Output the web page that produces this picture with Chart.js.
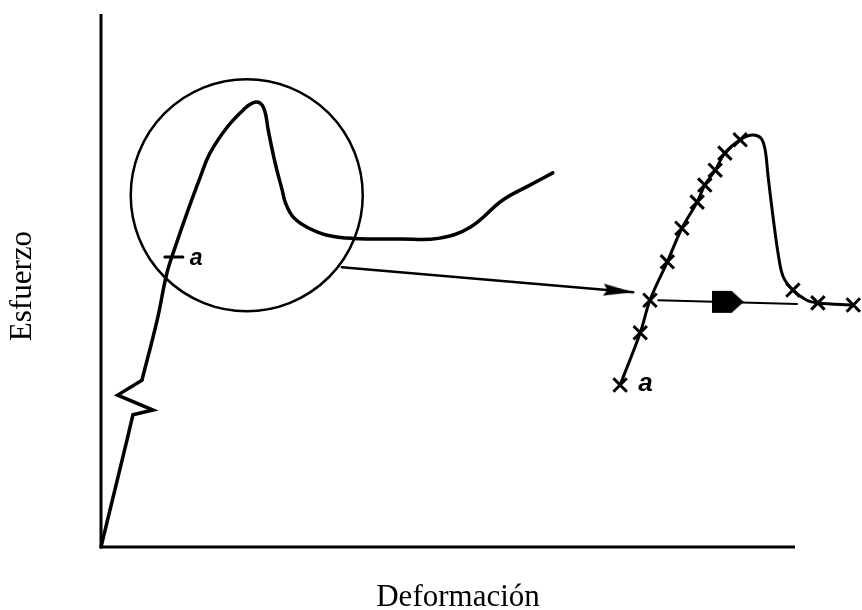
<!DOCTYPE html>
<html>
<head>
<meta charset="utf-8">
<title>Esfuerzo - Deformación</title>
<script src="https://cdn.jsdelivr.net/npm/chart.js@4/dist/chart.umd.min.js"></script>
<style>
  html, body { margin: 0; padding: 0; background: #fff; }
  canvas { display: block; }
</style>
</head>
<body>
<canvas id="stressChart" width="862" height="610"></canvas>
<script>
// units: deformación 0-100 along the axis, esfuerzo 0-100 up the axis
const ejes = [{x: 0, y: 100}, {x: 0, y: 0}, {x: 100, y: 0}];

// straight elastic start with the break mark
const arranque = [
    {x: 0, y: 0}, {x: 3.75, y: 20.1}, {x: 4.6, y: 24.8}, {x: 7.5, y: 25.7},
    {x: 2.4, y: 28.5}, {x: 5.9, y: 31.3}
];

// main curve: rise, peak, drop, plateau, hardening
const curva = [
    {x: 5.9, y: 31.3}, {x: 8.1, y: 42.6}, {x: 9.5, y: 51.4}, {x: 10.7, y: 56.3},
    {x: 12.4, y: 62.7}, {x: 14.3, y: 69.4}, {x: 15.7, y: 73.9}, {x: 18.2, y: 78.8},
    {x: 20.5, y: 82.0}, {x: 21.8, y: 83.3}, {x: 22.9, y: 83.3}, {x: 23.6, y: 81.8},
    {x: 24.1, y: 78.2}, {x: 25.1, y: 72.0}, {x: 26.1, y: 67.0}, {x: 26.6, y: 64.5},
    {x: 27.7, y: 61.9}, {x: 29.7, y: 60.0}, {x: 32.6, y: 58.5}, {x: 36.3, y: 57.9},
    {x: 43.1, y: 57.8}, {x: 48.6, y: 57.9}, {x: 53.2, y: 60.0}, {x: 57.9, y: 65.1},
    {x: 61.8, y: 67.9}, {x: 65.1, y: 70.2}
];

const marcaA = [{x: 9.2, y: 54.4}, {x: 11.8, y: 54.4}];
const lupa = [{x: 21.0, y: 66.0}];
const flecha = [{x: 34.7, y: 52.5}, {x: 76.7, y: 47.8}];

// enlarged detail with the x marks
const detalle = [
    {x: 74.8, y: 30.4}, {x: 77.7, y: 40.2}, {x: 79.1, y: 46.3}, {x: 81.6, y: 53.5},
    {x: 83.7, y: 59.8}, {x: 85.9, y: 64.7}, {x: 87.0, y: 67.9}, {x: 88.5, y: 70.7},
    {x: 89.9, y: 73.9}, {x: 92.1, y: 76.4}, {x: 93.8, y: 77.3}, {x: 95.1, y: 76.7},
    {x: 95.7, y: 74.5}, {x: 96.1, y: 69.8}, {x: 96.8, y: 62.3}, {x: 97.6, y: 54.8},
    {x: 98.3, y: 50.7}, {x: 99.7, y: 48.2}, {x: 101.7, y: 46.3}, {x: 103.3, y: 45.8},
    {x: 108.4, y: 45.4}
];
const marcados = [0, 1, 2, 3, 4, 5, 6, 7, 8, 9, 17, 19, 20];

const trayecto = [{x: 80.3, y: 46.3}, {x: 100.3, y: 45.6}];
const avance = [{x: 90.3, y: 46.0}];

const etiquetasA = [{x: 12.8, y: 53.0}, {x: 77.4, y: 29.3}];

function makeArrowHead(len, half) {
    const c = document.createElement('canvas');
    c.width = len * 2;
    c.height = half * 2 + 2;
    const g = c.getContext('2d');
    g.fillStyle = '#000';
    g.beginPath();
    g.moveTo(len, half + 1);
    g.lineTo(0, 1);
    g.lineTo(4, half + 1);
    g.lineTo(0, half * 2 + 1);
    g.closePath();
    g.fill();
    return c;
}

function makeBullet() {
    const c = document.createElement('canvas');
    c.width = 32;
    c.height = 24;
    const g = c.getContext('2d');
    g.fillStyle = '#000';
    g.beginPath();
    g.moveTo(0, 1);
    g.lineTo(20, 1);
    g.lineTo(32, 12);
    g.lineTo(20, 23);
    g.lineTo(0, 23);
    g.closePath();
    g.fill();
    return c;
}

const arrowHead = makeArrowHead(30, 6);
const bullet = makeBullet();

const letraA = {
    id: 'letraA',
    afterDatasetsDraw(chart) {
        const {ctx, scales} = chart;
        ctx.save();
        ctx.fillStyle = '#000';
        ctx.textBaseline = 'alphabetic';
        etiquetasA.forEach((p, i) => {
            ctx.font = 'italic bold ' + (i === 0 ? 23 : 26) + 'px "Liberation Sans", Arial, sans-serif';
            ctx.fillText('a', scales.x.getPixelForValue(p.x), scales.y.getPixelForValue(p.y));
        });
        ctx.restore();
    }
};

const line = (data, width, extra) => Object.assign({
    data: data,
    showLine: true,
    borderColor: '#000',
    backgroundColor: '#000',
    borderWidth: width,
    pointRadius: 0,
    tension: 0,
    borderJoinStyle: 'round',
    borderCapStyle: 'round',
    clip: false
}, extra || {});

const serif = '"Liberation Serif", "Times New Roman", serif';

new Chart(document.getElementById('stressChart'), {
    type: 'scatter',
    data: {
        datasets: [
            line(ejes, 3, {borderJoinStyle: 'miter', borderCapStyle: 'butt'}),
            line(arranque, 3.5, {borderJoinStyle: 'miter'}),
            line(curva, 3.5, {tension: 0.4}),
            line(marcaA, 3),
            {
                data: lupa,
                showLine: false,
                pointRadius: 116,
                pointBorderWidth: 2.5,
                pointBorderColor: '#000',
                pointBackgroundColor: 'rgba(0,0,0,0)',
                clip: false
            },
            line(flecha, 2.5, {
                pointRadius: (c) => c.dataIndex === 1 ? 5 : 0,
                pointStyle: arrowHead,
                pointRotation: (c) => {
                    const xs = c.chart.scales.x, ys = c.chart.scales.y;
                    const dy = ys.getPixelForValue(flecha[1].y) - ys.getPixelForValue(flecha[0].y);
                    const dx = xs.getPixelForValue(flecha[1].x) - xs.getPixelForValue(flecha[0].x);
                    return Math.atan2(dy, dx) * 180 / Math.PI;
                }
            }),
            line(detalle, 3, {
                tension: 0.35,
                pointStyle: 'crossRot',
                pointRadius: (c) => marcados.includes(c.dataIndex) ? 9.5 : 0,
                pointBorderWidth: 3,
                pointBorderColor: '#000'
            }),
            line(trayecto, 2),
            {
                data: avance,
                showLine: false,
                pointRadius: 5,
                pointStyle: bullet,
                clip: false
            }
        ]
    },
    options: {
        responsive: false,
        animation: false,
        events: [],
        layout: {
            autoPadding: false,
            padding: {left: 10, right: 0, top: 0, bottom: 0}
        },
        scales: {
            x: {
                type: 'linear',
                min: -6.772,
                max: 109.654,
                grid: {display: false, drawTicks: false},
                border: {display: false},
                ticks: {display: false},
                title: {
                    display: true,
                    text: 'Deformación',
                    color: '#000',
                    font: {family: serif, size: 31, lineHeight: 0.8},
                    padding: {top: 13, bottom: 0}
                }
            },
            y: {
                type: 'linear',
                min: -4.728,
                max: 102.627,
                grid: {display: false, drawTicks: false},
                border: {display: false},
                ticks: {display: false},
                title: {
                    display: true,
                    text: 'Esfuerzo',
                    color: '#000',
                    font: {family: serif, size: 31, lineHeight: 0.8},
                    padding: {top: 0, bottom: 19.2}
                }
            }
        },
        plugins: {
            legend: {display: false},
            tooltip: {enabled: false}
        }
    },
    plugins: [letraA]
});
</script>
</body>
</html>
